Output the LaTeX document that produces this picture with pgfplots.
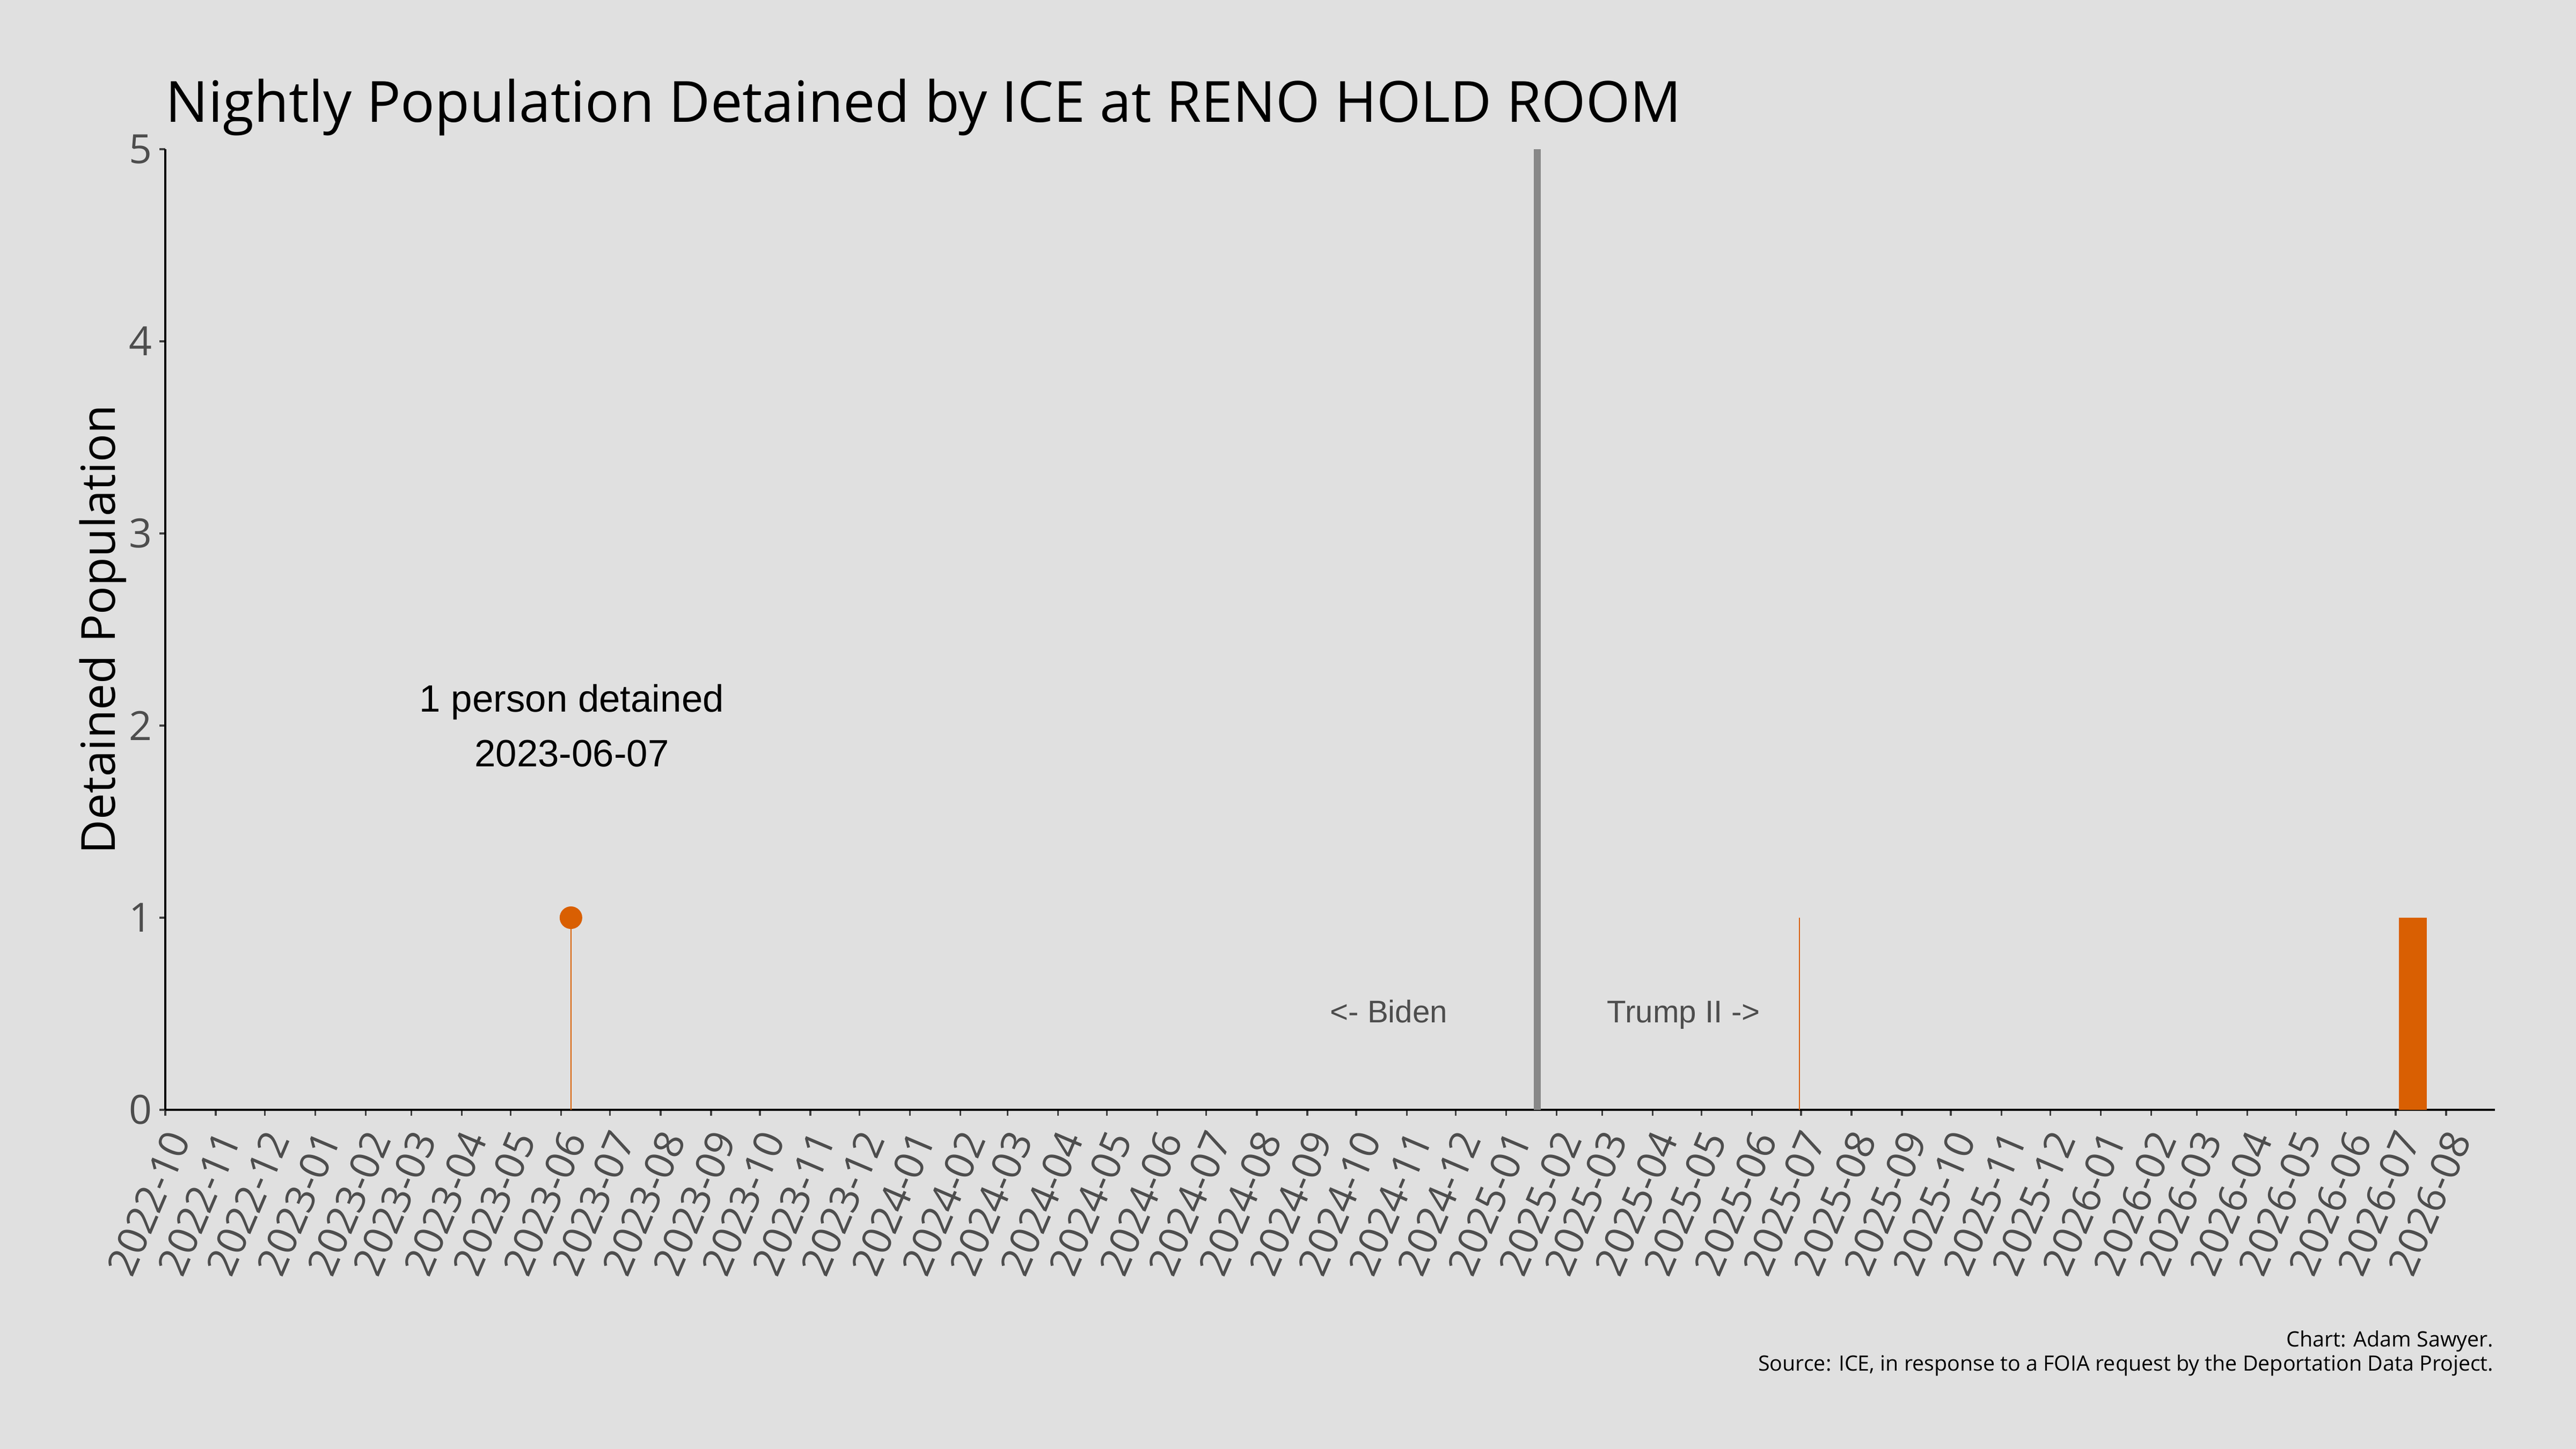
\documentclass[border=0pt]{standalone}
\usepackage{fontspec}
\setmainfont{Open Sans}
\newfontfamily\arialfont{Liberation Sans}
\usepackage{pgfplots}
\pgfplotsset{compat=1.18}

\definecolor{bg}{HTML}{E0E0E0}
\definecolor{dorange}{HTML}{D95F02}
\definecolor{vgrey}{HTML}{888888}
\definecolor{tickgrey}{HTML}{4D4D4D}

\begin{document}
\begin{tikzpicture}
\fill[bg] (0,0) rectangle (1152pt,648pt);
\begin{axis}[
  at={(73.92pt,151.68pt)}, anchor=south west,
  width=1041.84pt, height=429.6pt, scale only axis,
  xmin=0, xmax=1430, ymin=0, ymax=5,
  axis lines=left,
  axis line style={-, black, line width=1.1pt},
  tick align=outside,
  major tick length=2.7pt,
  tick style={black!75, line width=0.8pt},
  % x = days since 2022-10-01, one tick per month start
  xtick={0,31,61,92,123,151,182,212,243,273,304,335,365,396,426,
         457,488,517,548,578,609,639,670,701,731,762,792,
         823,854,882,913,943,974,1004,1035,1066,1096,1127,1157,
         1188,1219,1247,1278,1308,1339,1369,1400},
  xticklabels={2022-10,2022-11,2022-12,
    2023-01,2023-02,2023-03,2023-04,2023-05,2023-06,2023-07,2023-08,2023-09,2023-10,2023-11,2023-12,
    2024-01,2024-02,2024-03,2024-04,2024-05,2024-06,2024-07,2024-08,2024-09,2024-10,2024-11,2024-12,
    2025-01,2025-02,2025-03,2025-04,2025-05,2025-06,2025-07,2025-08,2025-09,2025-10,2025-11,2025-12,
    2026-01,2026-02,2026-03,2026-04,2026-05,2026-06,2026-07,2026-08},
  ytick={0,1,2,3,4,5},
  /pgf/number format/assume math mode=true,
  xticklabel style={font=\fontsize{18}{18}\selectfont, text=tickgrey,
    inner sep=0pt, xshift=5.8pt, yshift=-7.9pt, rotate=67, anchor=east},
  yticklabel style={font=\fontsize{18}{18}\selectfont, text=tickgrey,
    inner sep=0pt, xshift=-3pt, anchor=east},
  clip=false,
]
% Biden / Trump II divider (2025-01-20)
\addplot[vgrey, line width=3.1pt] coordinates {(842,0) (842,5)};
% stem and dot for 2023-06-07
\addplot[dorange, line width=0.4pt] coordinates {(249,0) (249,1)};
\addplot[only marks, mark=*, mark size=4.85pt, dorange, mark options={draw=dorange, fill=dorange}] coordinates {(249,1)};
% thin stem near 2025-07
\addplot[dorange, line width=0.4pt] coordinates {(1003,0) (1003,1)};
% block in 2026-07
\addplot[draw=none, fill=dorange] coordinates {(1371,0) (1371,1) (1388,1) (1388,0)} -- cycle;

\node[font=\arialfont\fontsize{17}{24.5}\selectfont, align=center, anchor=center]
  at (axis cs:249.5,2) {1 person detained\\2023-06-07};
\node[font=\arialfont\fontsize{14}{14}\selectfont, text=tickgrey, anchor=base]
  at (axis cs:751,0.455) {<- Biden};
\node[font=\arialfont\fontsize{14}{14}\selectfont, text=tickgrey, anchor=base]
  at (axis cs:932,0.455) {Trump II ->};
\end{axis}

\node[anchor=base west, inner sep=0pt, font=\fontsize{25.4}{25.4}\selectfont]
  at (73.92pt,593.5pt) {Nightly Population Detained by ICE at RENO HOLD ROOM};
\node[rotate=90, anchor=base, inner sep=0pt, font=\fontsize{21}{21}\selectfont]
  at (51.4pt,366.48pt) {Detained Population};
\node[anchor=base east, inner sep=0pt, font=\fontsize{9.45}{9.45}\selectfont]
  at (1115.3pt,45.6pt) {Chart: Adam Sawyer.};
\node[anchor=base east, inner sep=0pt, font=\fontsize{9.45}{9.45}\selectfont]
  at (1115.3pt,34.8pt) {Source: ICE, in response to a FOIA request by the Deportation Data Project.};

\pgfresetboundingbox
\path[use as bounding box] (0,0) rectangle (1152pt,648pt);
\end{tikzpicture}
\end{document}
